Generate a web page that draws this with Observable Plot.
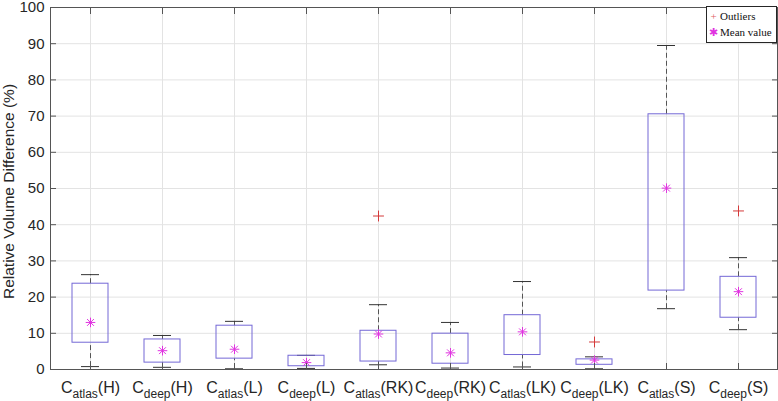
<!DOCTYPE html>
<html><head><meta charset="utf-8">
<script src="https://cdn.jsdelivr.net/npm/d3@7"></script>
<script src="https://cdn.jsdelivr.net/npm/@observablehq/plot@0.6"></script>
<style>
body{margin:0;background:#fff;}
#wrap{position:relative;width:778px;height:401px;overflow:hidden;}
#legend{position:absolute;left:706px;top:6px;width:71px;height:37px;border:1px solid #262626;background:#fff;font-family:"Liberation Serif",serif;font-size:11px;color:#111;line-height:15.5px;padding-top:2px;box-sizing:border-box;}
#legend div{white-space:nowrap;}
#legend .m{display:inline-block;width:11px;text-align:center;margin-left:1px;margin-right:1px;}
</style>
</head><body><div id="wrap"></div>
<script>
const subs = ["atlas","deep","atlas","deep","atlas","deep","atlas","deep","atlas","deep"];
const groups = ["H","H","L","L","RK","RK","LK","LK","S","S"];
const categories = subs.map((s, i) => `C_${s}(${groups[i]})`);
const q1 = [7.4, 1.9, 3.0, 0.9, 2.2, 1.6, 4.0, 1.3, 21.8, 14.3];
const q3 = [23.7, 8.3, 12.1, 3.8, 10.7, 9.9, 15.0, 2.8, 70.5, 25.6];
const whiskerLow = [0.8, 0.6, 0.2, 0.3, 1.3, 0.4, 0.7, 0.2, 16.8, 11.0];
const whiskerHigh = [26.2, 9.4, 13.3, 3.9, 17.9, 13.0, 24.3, 3.5, 89.5, 30.9];
const means = [13.0, 5.2, 5.6, 1.9, 9.8, 4.6, 10.4, 2.6, 50.1, 21.5];
const outlierCats = ["C_atlas(RK)", "C_deep(LK)", "C_deep(S)"];
const outlierValues = [42.4, 7.6, 43.8];
const yTicks = [0, 10, 20, 30, 40, 50, 60, 70, 80, 90, 100];
const yLabel = "Relative Volume Difference (%)";

const table = categories.map((c, i) => ({cat: c, q1: q1[i], q3: q3[i], lo: whiskerLow[i], hi: whiskerHigh[i], mean: means[i]}));
const outliers = outlierCats.map((c, i) => ({cat: c, v: outlierValues[i]}));

const ink = "#262626";
const chart = Plot.plot({
  width: 778, height: 401,
  marginLeft: 50, marginRight: 1, marginTop: 7, marginBottom: 32,
  style: {fontFamily: "'Liberation Sans', Arial, sans-serif", fontSize: "16px", color: ink, background: "#fff"},
  x: {type: "band", domain: categories, padding: 0},
  y: {domain: [0, 100]},
  marks: [
    Plot.ruleY(yTicks, {stroke: "#e3e3e3"}),
    Plot.ruleX(categories, {x: d => d, stroke: "#e3e3e3"}),
    Plot.ruleX(table, {x: "cat", y1: "q3", y2: "hi", stroke: "#555", strokeDasharray: "5,3"}),
    Plot.ruleX(table, {x: "cat", y1: "lo", y2: "q1", stroke: "#555", strokeDasharray: "5,3"}),
    Plot.tickY(table, {x: "cat", y: "hi", stroke: "#333", insetLeft: 27, insetRight: 27}),
    Plot.tickY(table, {x: "cat", y: "lo", stroke: "#333", insetLeft: 27, insetRight: 27}),
    Plot.barY(table, {x: "cat", y1: "q1", y2: "q3", fill: "none", stroke: "#7468d6", insetLeft: 18, insetRight: 18}),
    Plot.dot(table, {x: "cat", y: "mean", symbol: "plus", stroke: "#e033e0", r: 3.2, strokeWidth: 1}),
    Plot.dot(table, {x: "cat", y: "mean", symbol: "times", stroke: "#e033e0", r: 3.2, strokeWidth: 1}),
    Plot.dot(outliers, {x: "cat", y: "v", symbol: "plus", stroke: "#d43a3a", r: 3.6, strokeWidth: 1}),
    Plot.frame({stroke: "#555"}),
    // tick labels
    Plot.axisY(yTicks, {anchor: "left", tickSize: 0, tickPadding: 6, fill: ink, fontSize: 15, label: null}),
    Plot.axisX({anchor: "bottom", tickSize: 0, tickPadding: 12, fill: ink, label: null}),
    Plot.text([yLabel], {frameAnchor: "left", textAnchor: "middle", rotate: -90, dx: -41, dy: 3, text: d => d, fill: ink, fontSize: 15.5}),
    // inward ticks
    Plot.axisY(yTicks, {anchor: "left", tickSize: 6, dx: 6, fill: "none", stroke: "#555", label: null}),
    Plot.axisY(yTicks, {anchor: "right", tickSize: 6, dx: -6, fill: "none", stroke: "#555", label: null}),
    Plot.axisX({anchor: "top", tickSize: 6, dy: 6, fill: "none", stroke: "#555", label: null}),
    Plot.axisX({anchor: "bottom", tickSize: 6, dy: -6, fill: "none", stroke: "#555", label: null})
  ]
});

// render subscripts in x tick labels
d3.select(chart).selectAll("g[aria-label='x-axis tick label'] text").each(function() {
  const t = this.textContent;
  const m = t.match(/^C_(\w+)(\(.*\))$/);
  if (!m) return;
  const sel = d3.select(this);
  sel.text("");
  sel.append("tspan").text("C");
  sel.append("tspan").attr("font-size", "12px").attr("dy", "5").text(m[1]);
  sel.append("tspan").attr("dy", "-5").text(m[2]);
});

const wrap = document.getElementById("wrap");
wrap.appendChild(chart);
const legend = document.createElement("div");
legend.id = "legend";
legend.innerHTML = '<div><span class="m" style="color:#e06060">+</span>Outliers</div><div><span class="m" style="color:#e033e0">&#x2731;</span>Mean value</div>';
wrap.appendChild(legend);
</script>
</body></html>
